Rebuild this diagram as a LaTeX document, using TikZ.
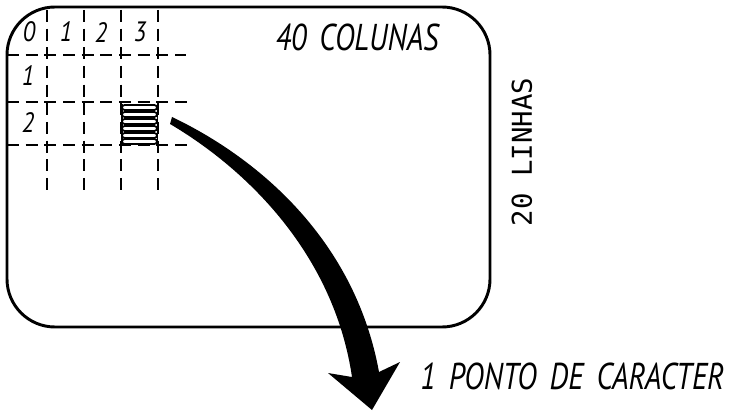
\documentclass[tikz,border=0pt]{standalone}
\usepackage{fontspec}
\setsansfont{PT Sans}
\setmonofont{DejaVu Sans Mono}
\usetikzlibrary{calc}

\begin{document}
\begin{tikzpicture}[x=0.75pt, y=-0.75pt, thick]
            \tikzset{
                grade/.style={line width=1.5pt, dash pattern=on 9pt off 5pt},
                letra/.style={font=\sffamily\itshape\fontsize{28}{32}\selectfont, inner sep=0pt, xscale=0.8},
                numero/.style={font=\sffamily\itshape\fontsize{21}{24}\selectfont, inner sep=0pt, xscale=0.85}
            }
            \useasboundingbox (0,0) rectangle (730,413);

            % tela
            \draw[line width=2.2pt, rounded corners=36pt] (7,7) rectangle (490,327);

            % grade de caracteres
            \foreach \x in {47,84,121,158}
                \draw[grade] (\x,10) -- (\x,190);
            \draw[grade] (7,55) -- (186,55);
            \draw[grade] (7,102) -- (192,102);
            \draw[grade] (7,145) -- (192,145);

            \node[numero] (c0) at (29,32) {0};
            \node[numero] (c1) at (66,32) {1};
            \node[numero] (c2) at (101,33) {2};
            \node[numero] (c3) at (140,32) {3};
            \node[numero] (l1) at (28,76) {1};
            \node[numero] (l2) at (28,123) {2};

            % caracter
            \foreach \y in {105,112,119,126,133,139}
                \draw[line width=1.3pt, rounded corners=2pt] (122,\y) rectangle (157,\y+5);
            \draw[line width=1.5pt] (122,104) -- (122,146);

            % seta
            \fill (172,117) .. controls (252,155) and (354,235) .. (379,372)
                -- (400,362) -- (372,410) -- (328,373) -- (352,377)
                .. controls (334,255) and (248,170) .. (170,124) -- cycle;

            \node[letra] (colunas) at (357,37) {40 \,COLUNAS};
            \node[font=\ttfamily\fontsize{20.5}{24}\selectfont, inner sep=0pt, rotate=90] (linhas) at (522,152) {20 LINHAS};
            \node[letra, anchor=west] (ponto) at (420,376) {1 \,PONTO \,DE \,CARACTER};
        \end{tikzpicture}
\end{document}
